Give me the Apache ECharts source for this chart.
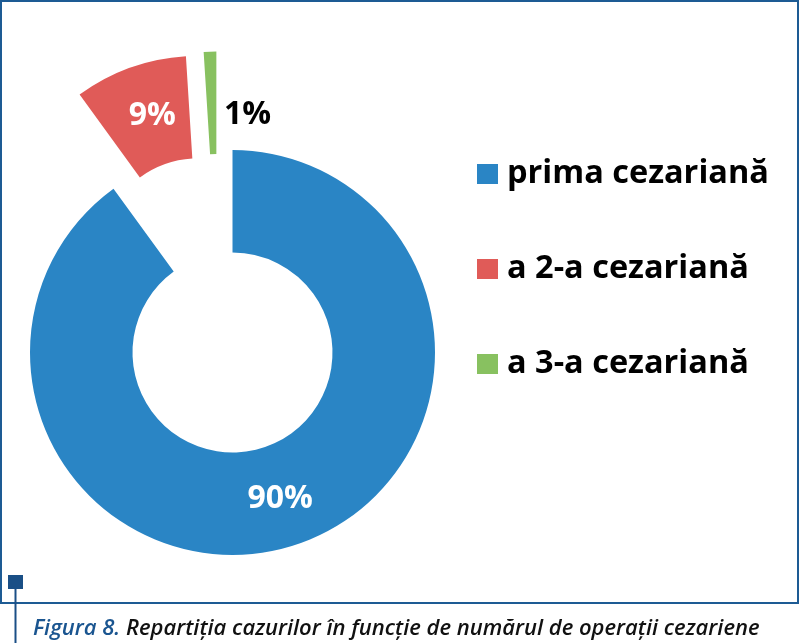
<!DOCTYPE html>
<html>
<head>
<meta charset="utf-8">
<script src="https://cdn.jsdelivr.net/npm/echarts@6/dist/echarts.min.js"></script>
<style>html,body{margin:0;padding:0;background:#fff}#c{width:800px;height:643px}</style>
</head>
<body>
<div id="c"></div>
<script>
var categories = ['prima cezariană', 'a 2-a cezariană', 'a 3-a cezariană'];
var values = [90, 9, 1];
var labels = ['90%', '9%', '1%'];
var colors = ['#2A85C5', '#E05B58', '#88C160'];
var captionLead = 'Figura 8.';
var captionRest = ' Repartiția cazurilor în funcție de numărul de operații cezariene';

var chart = echarts.init(document.getElementById('c'));
var clear = 'rgba(0,0,0,0)';
var FONT = '"Open Sans", sans-serif';

function mainData() {
  return [
    {name: categories[0], value: values[0], itemStyle: {color: colors[0]},
     label: {show: true, formatter: labels[0]}},
    {name: categories[1], value: values[1], itemStyle: {color: colors[1]}, selected: true,
     label: {show: true, formatter: '{s|}\n{t|' + labels[1] + '}', padding: [0, 0, 0, 12],
       rich: {s: {lineHeight: 6}, t: {lineHeight: 32, color: '#fff', fontFamily: FONT, fontWeight: 'bold', fontSize: 32}}}},
    {name: '_hidden_g', value: values[2], itemStyle: {color: clear}, label: {show: false}}
  ];
}
function greenData() {
  return [
    {name: '_hidden_b', value: values[0], itemStyle: {color: clear}, label: {show: false}},
    {name: '_hidden_r', value: values[1], itemStyle: {color: clear}, label: {show: false}},
    {name: categories[2], value: values[2], itemStyle: {color: colors[2]}, selected: true,
     label: {show: true, formatter: '{s|}\n{t|' + labels[2] + '}', padding: [0, 0, 0, 72],
       rich: {s: {lineHeight: 30}, t: {lineHeight: 20, color: '#000', fontFamily: FONT, fontWeight: 'bold', fontSize: 32}}}}
  ];
}

var option = {
  backgroundColor: '#fff',
  animation: false,
  legend: {
    data: categories,
    orient: 'vertical',
    left: 477,
    top: 154,
    padding: 0,
    itemWidth: 21,
    itemHeight: 20,
    itemGap: 55,
    icon: 'rect',
    selectedMode: false,
    textStyle: {fontFamily: FONT, fontWeight: 'bold', fontSize: 32.5, color: '#000',
      lineHeight: 40, padding: [0, 0, 0, 4]}
  },
  series: [
    {
      type: 'pie',
      silent: true,
      center: [232.5, 352.5],
      radius: [100, 202.5],
      startAngle: 90,
      clockwise: true,
      selectedMode: 'multiple',
      selectedOffset: 100,
      avoidLabelOverlap: false,
      label: {position: 'inside', color: '#fff', fontFamily: FONT, fontWeight: 'bold', fontSize: 32},
      labelLine: {show: false},
      emphasis: {disabled: true},
      data: mainData()
    },
    {
      type: 'pie',
      silent: true,
      center: [219.5, 354],
      radius: [100, 202.5],
      startAngle: 90,
      clockwise: true,
      selectedMode: 'multiple',
      selectedOffset: 100,
      avoidLabelOverlap: false,
      label: {position: 'inside', color: '#000', fontFamily: FONT, fontWeight: 'bold', fontSize: 32},
      labelLine: {show: false},
      emphasis: {disabled: true},
      data: greenData()
    }
  ],
  graphic: [
    {type: 'rect', silent: true, shape: {x: 1, y: 1, width: 797, height: 602},
     style: {fill: null, stroke: '#1D5B94', lineWidth: 2}},
    {type: 'rect', silent: true, shape: {x: 8, y: 575, width: 15, height: 14},
     style: {fill: '#1A4F86'}},
    {type: 'line', silent: true, shape: {x1: 15.5, y1: 589, x2: 15.5, y2: 643},
     style: {stroke: '#1A4F86', lineWidth: 2}},
    {type: 'text', silent: true, left: 33, top: 618,
     style: {
       rich: {
         a: {fontFamily: FONT, fontStyle: 'italic', fontWeight: 600, fontSize: 22, fill: '#1A5590'},
         b: {fontFamily: FONT, fontStyle: 'italic', fontWeight: 600, fontSize: 22, fill: '#111'}
       },
       text: '{a|' + captionLead + '}{b|' + captionRest + '}'
     }}
  ]
};
chart.setOption(option);
</script>
</body>
</html>
